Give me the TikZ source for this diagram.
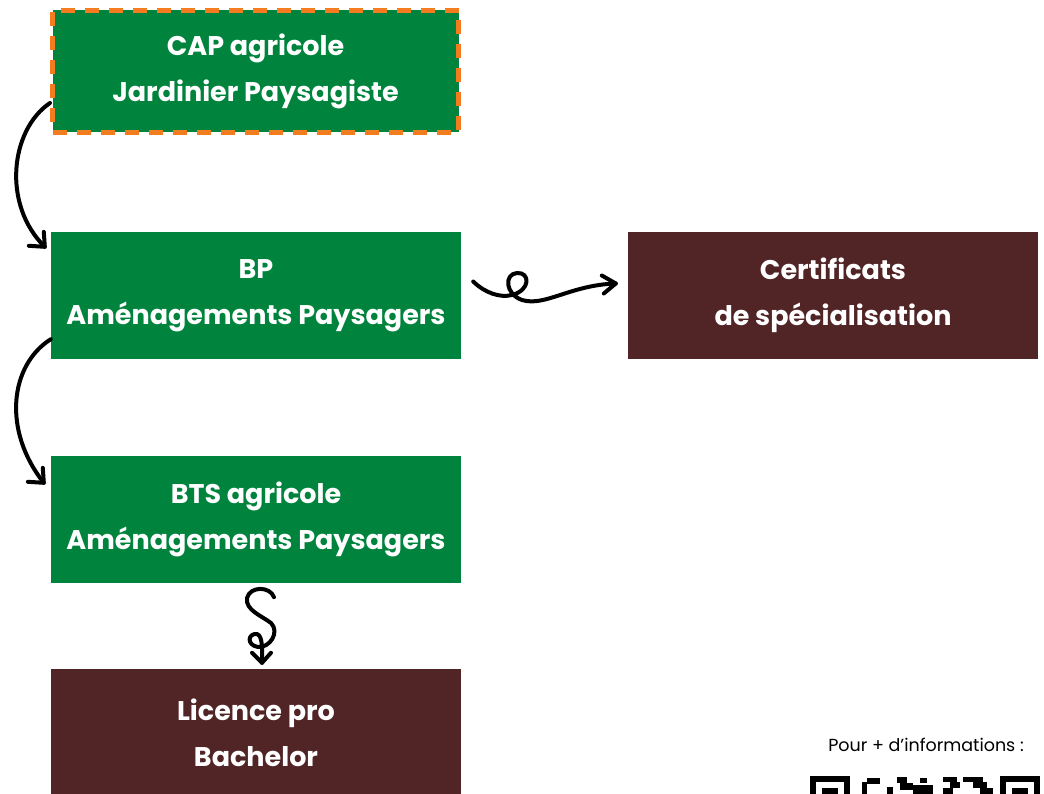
\documentclass[tikz,border=0pt]{standalone}
\usepackage{fontspec}
\setmainfont{Poppins}
\usetikzlibrary{calc}
\definecolor{cgreen}{RGB}{0,132,61}
\definecolor{cbrown}{RGB}{81,36,38}
\definecolor{corange}{RGB}{244,124,32}
\tikzset{
  box/.style={rectangle, minimum width=410pt, minimum height=127pt, inner sep=0pt,
    text=white, align=center, font=\fontsize{27}{46}\selectfont\bfseries},
  greenbox/.style={box, fill=cgreen},
  brownbox/.style={box, fill=cbrown},
  hand/.style={draw=black, line width=4pt, line cap=round, line join=round},
  qr/.style={fill=black}
}
\begin{document}
\begin{tikzpicture}[x=1pt,y=-1pt]
\useasboundingbox (0,0) rectangle (1044,794);
\fill[white] (0,0) rectangle (1044,794);
\node[greenbox, draw=corange, line width=5pt, dash pattern=on 14pt off 10pt, minimum width=406pt, minimum height=122pt] (cap) at (255.5,71.5) {CAP agricole\\Jardinier Paysagiste};
\node[greenbox] (bp) at (256,295.5) {BP\\Aménagements Paysagers};
\node[greenbox] (bts) at (256,519.5) {BTS agricole\\Aménagements Paysagers};
\node[brownbox] (lic) at (256,732.5) {Licence pro\\Bachelor};
\node[brownbox] (cert) at (833,295.5) {Certificats\\de spécialisation};
\node[font=\fontsize{17.5}{20}\selectfont, text=black] (info) at (926,745) {Pour + d’informations :};
% arrow cap -> bp
\coordinate (a1s) at ($(cap.south west)+(0,-32)$);
\coordinate (a1e) at ($(bp.north west)+(-6,15)$);
\draw[hand] (a1s) .. controls (10,130) and (2,205) .. (a1e);
\draw[hand] ($(a1e)+(-1,-15)$) -- (a1e) -- ($(a1e)+(-16,-1)$);
% arrow bp -> bts
\coordinate (a2s) at ($(bp.south west)+(0,-20)$);
\coordinate (a2e) at ($(bts.north west)+(-7,27)$);
\draw[hand] (a2s) .. controls (10,365) and (2,430) .. (a2e);
\draw[hand] ($(a2e)+(-1,-15)$) -- (a2e) -- ($(a2e)+(-16,-1)$);
% wavy arrow bp -> cert
\coordinate (a3s) at ($(bp.east)+(12,-14)$);
\coordinate (a3e) at ($(cert.west)+(-12,-12)$);
\draw[hand] (a3s) .. controls (485,293) and (500,298) .. (512,295)
  .. controls (531,290) and (530,272) .. (517,273)
  .. controls (504,274) and (505,294) .. (522,300)
  .. controls (545,307) and (570,285) .. (a3e);
\draw[hand] ($(a3e)+(-14,-8)$) -- (a3e) -- ($(a3e)+(-12,10)$);
% S arrow bts -> lic
\coordinate (a4s) at ($(bts.south)+(18,14)$);
\coordinate (a4e) at ($(lic.north)+(6,-6)$);
\draw[hand] (a4s) .. controls (270,586) and (250,586) .. (247,598)
  .. controls (245,610) and (262,616) .. (271,623)
  .. controls (280,632) and (270,648) .. (258,647)
  .. controls (246,645) and (248,633) .. (257,634)
  .. controls (263,636) and (262,650) .. (a4e);
\draw[hand] ($(a4e)+(-10,-10)$) -- (a4e) -- ($(a4e)+(9,-10)$);
% QR code (partially visible)
\fill[qr] (810,776) rectangle (850,782);
\fill[qr] (810,776) rectangle (816,794);
\fill[qr] (844,776) rectangle (850,794);
\fill[qr] (822,788) rectangle (838,794);
\fill[qr] (1000,776) rectangle (1040,782);
\fill[qr] (1000,776) rectangle (1006,794);
\fill[qr] (1034,776) rectangle (1040,794);
\fill[qr] (1012,788) rectangle (1028,794);
\fill[qr] (862,782) rectangle (867,794);
\fill[qr] (867,778) rectangle (880,784);
\fill[qr] (897,777) rectangle (907,783);
\fill[qr] (900,783) rectangle (913,790);
\fill[qr] (887,787) rectangle (893,794);
\fill[qr] (913,785) rectangle (933,794);
\fill[qr] (920,778) rectangle (927,783);
\fill[qr] (943,777) rectangle (957,782);
\fill[qr] (963,777) rectangle (983,782);
\fill[qr] (950,782) rectangle (960,788);
\fill[qr] (973,782) rectangle (987,788);
\fill[qr] (943,788) rectangle (953,794);
\fill[qr] (980,788) rectangle (993,794);
\end{tikzpicture}
\end{document}
